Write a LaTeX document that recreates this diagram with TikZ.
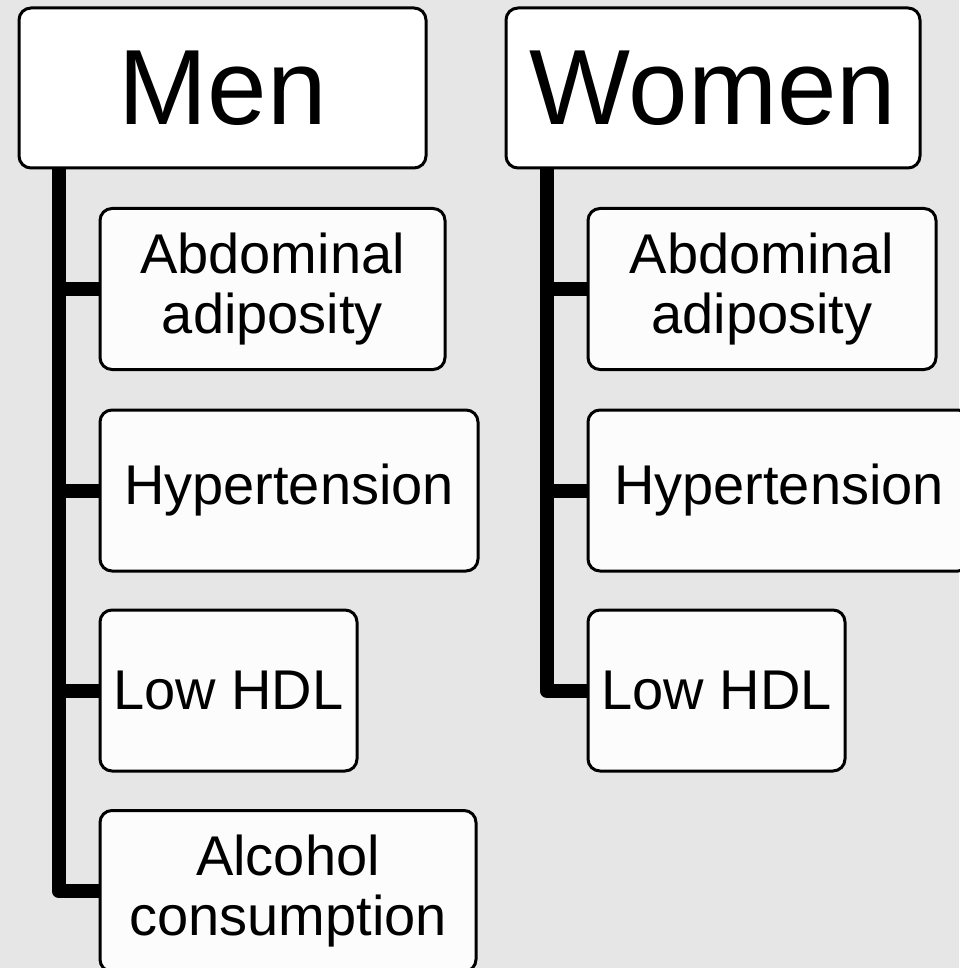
\documentclass[tikz,border=0pt]{standalone}
\usepackage{fontspec}
\setmainfont{Liberation Sans}
\usepackage{tikz}

\definecolor{bggray}{HTML}{E6E6E6}
\definecolor{itemfill}{HTML}{FCFCFC}

\begin{document}
\begin{tikzpicture}[x=1pt, y=1pt,
    headbox/.style={draw, line width=3pt, rounded corners=12pt, fill=white,
      minimum height=160pt, inner sep=0pt, font=\fontsize{107}{110}\selectfont},
    itembox/.style={draw, line width=3pt, rounded corners=12pt, fill=itemfill,
      minimum height=161pt, inner sep=0pt, align=center,
      font=\fontsize{56}{60}\selectfont},
    trunk/.style={line width=14pt, line join=round}]
  % background
  \fill[bggray] (0,0) rectangle (959,-968);
  \useasboundingbox (0,0) rectangle (959,-968);

  % headers
  \node[headbox, minimum width=407pt] (men) at (222.5,-88) {Men};
  \node[headbox, minimum width=414pt] (women) at (713,-88) {Women};

  % men items
  \node[itembox, minimum width=345pt] (menab) at (272.5,-289) {Abdominal\\adiposity};
  \node[itembox, minimum width=378pt] (menhy) at (289,-490.5) {Hypertension};
  \node[itembox, minimum width=257pt] (menlo) at (228.5,-690.5) {Low HDL};
  \node[itembox, minimum width=376pt] (menal) at (288,-891) {Alcohol\\consumption};

  % women items
  \node[itembox, minimum width=348pt] (womab) at (762,-289) {Abdominal\\adiposity};
  \node[itembox, minimum width=382pt] (womhy) at (779,-490.5) {Hypertension};
  \node[itembox, minimum width=257pt] (womlo) at (716.5,-690.5) {Low HDL};

  % trunks
  \coordinate (mentop) at ([xshift=41pt]men.south west);
  \coordinate (womtop) at ([xshift=42pt]women.south west);
  \draw[trunk] (mentop) |- (menal.west);
  \draw[trunk] (womtop) |- (womlo.west);
  \foreach \n in {menab, menhy, menlo}
    \draw[trunk] (mentop |- \n.west) -- (\n.west);
  \foreach \n in {womab, womhy}
    \draw[trunk] (womtop |- \n.west) -- (\n.west);
\end{tikzpicture}
\end{document}
